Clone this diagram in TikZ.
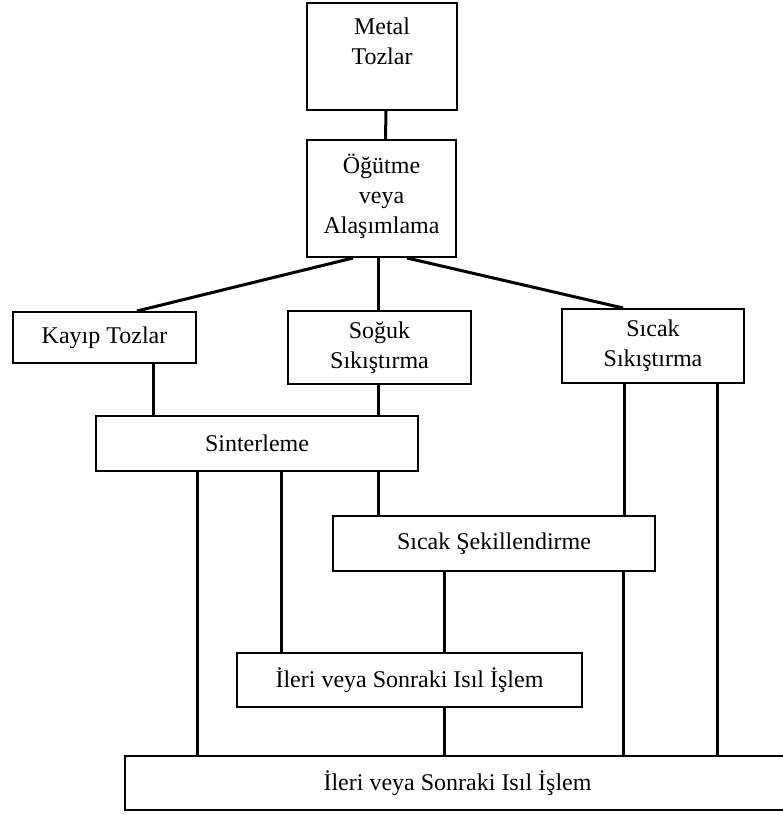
\documentclass[tikz,border=0pt]{standalone}
\usepackage{fontspec}
\setmainfont{Liberation Serif}
\usepackage{tikz}
\usetikzlibrary{positioning}
\tikzstyle{box} = [
    rectangle,
    draw=black,
    line width=2pt,
    align=center,
    inner sep=0pt,
    font={\fontsize{24}{30}\selectfont}
]
\tikzstyle{link} = [
    line width=3pt,
    draw=black
]

\begin{document}
\begin{tikzpicture}[x=1pt, y=-1pt]
    \useasboundingbox (0,0) rectangle (783,814);
    % boxes
    \node[box, minimum width=150pt, minimum height=107pt] (metal) at (382,56.5) {Metal\\Tozlar\\~};
    \node[box, minimum width=149pt, minimum height=117pt] (ogut) at (381.5,198.5) {Öğütme\\veya\\Alaşımlama\\[-20pt]~};
    \node[box, minimum width=183pt, minimum height=51pt] (kayip) at (104.5,337.5) {Kayıp Tozlar};
    \node[box, minimum width=183pt, minimum height=73pt] (soguk) at (379.5,347.5) {Soğuk\\Sıkıştırma};
    \node[box, minimum width=182pt, minimum height=74pt] (sicak) at (653,346) {Sıcak\\Sıkıştırma};
    \node[box, minimum width=322pt, minimum height=55pt] (sinter) at (257,443.5) {Sinterleme};
    \node[box, minimum width=322pt, minimum height=55pt] (sekil) at (494,543.5) {Sıcak Şekillendirme};
    \node[box, minimum width=345pt, minimum height=54pt] (ileri) at (409.5,680) {İleri veya Sonraki Isıl İşlem};
    \node[box, minimum width=665pt, minimum height=54pt] (son) at (457.5,783) {İleri veya Sonraki Isıl İşlem};
    % connectors
    \draw[link] ([xshift=4pt]metal.south) -- ([xshift=4pt]ogut.north);
    \draw[link] ([xshift=-28.5pt]ogut.south) -- ([xshift=32.5pt]kayip.north);
    \draw[link] ([xshift=-3.5pt]ogut.south) -- ([xshift=-1.5pt]soguk.north);
    \draw[link] ([xshift=25.5pt]ogut.south) -- ([xshift=-30pt]sicak.north);
    \draw[link] ([xshift=48.5pt]kayip.south) -- ([xshift=-104pt]sinter.north);
    \draw[link] ([xshift=-1.5pt]soguk.south) -- ([xshift=121pt]sinter.north);
    \draw[link] ([xshift=-60pt]sinter.south) -- ([xshift=-260.5pt]son.north);
    \draw[link] ([xshift=24pt]sinter.south) -- ([xshift=-128.5pt]ileri.north);
    \draw[link] ([xshift=121pt]sinter.south) -- ([xshift=-116pt]sekil.north);
    \draw[link] ([xshift=-29pt]sicak.south) -- ([xshift=130pt]sekil.north);
    \draw[link] ([xshift=129.5pt]sekil.south) -- ([xshift=166pt]son.north);
    \draw[link] ([xshift=64pt]sicak.south) -- ([xshift=259.5pt]son.north);
    \draw[link] ([xshift=-50pt]sekil.south) -- ([xshift=34.5pt]ileri.north);
    \draw[link] ([xshift=34.5pt]ileri.south) -- ([xshift=-13.5pt]son.north);
\end{tikzpicture}
\end{document}
